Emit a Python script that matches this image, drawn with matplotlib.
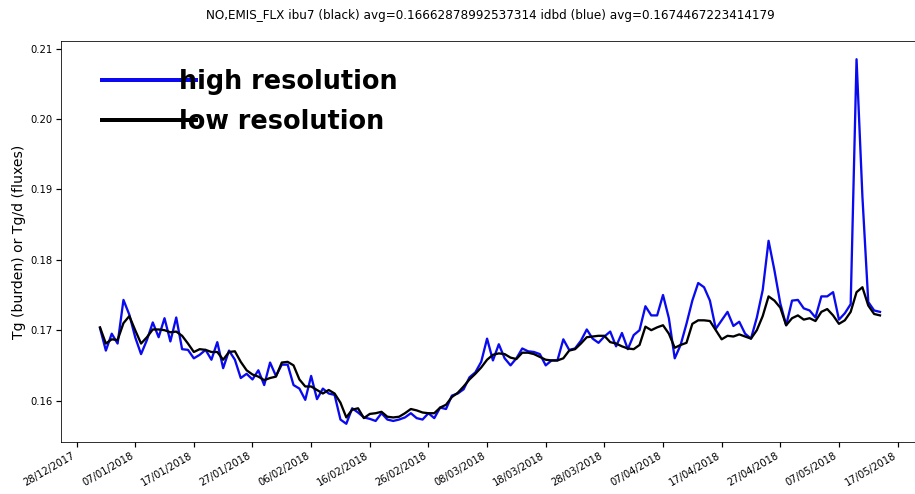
import numpy as np
import pandas as pd
import matplotlib
matplotlib.use("Agg")
import matplotlib.pyplot as plt
import matplotlib.dates as mdates

start_date = "2018-01-01"
n_days = 134

low_res = [
    0.1704, 0.1681, 0.1687, 0.1686, 0.1710, 0.1720, 0.1700, 0.1681, 0.1690, 0.1701,
    0.1701, 0.1700, 0.1697, 0.1698, 0.1692, 0.1681, 0.1669, 0.1673, 0.1672, 0.1669,
    0.1669, 0.1658, 0.1669, 0.1670, 0.1655, 0.1643, 0.1637, 0.1634, 0.1629, 0.1632,
    0.1634, 0.1654, 0.1655, 0.1650, 0.1630, 0.1620, 0.1620, 0.1615, 0.1610, 0.1615,
    0.1610, 0.1597, 0.1576, 0.1587, 0.1589, 0.1575, 0.1581, 0.1582, 0.1584, 0.1577,
    0.1576, 0.1577, 0.1582, 0.1588, 0.1586, 0.1583, 0.1582, 0.1582, 0.1590, 0.1594,
    0.1605, 0.1611, 0.1620, 0.1630, 0.1638, 0.1647, 0.1658, 0.1665, 0.1667, 0.1666,
    0.1661, 0.1659, 0.1668, 0.1668, 0.1666, 0.1662, 0.1658, 0.1657, 0.1657, 0.1660,
    0.1671, 0.1673, 0.1681, 0.1690, 0.1691, 0.1692, 0.1692, 0.1683, 0.1681, 0.1677,
    0.1674, 0.1673, 0.1679, 0.1705, 0.1700, 0.1704, 0.1707, 0.1695, 0.1675, 0.1679,
    0.1682, 0.1709, 0.1714, 0.1714, 0.1713, 0.1700, 0.1687, 0.1692, 0.1691, 0.1694,
    0.1691, 0.1688, 0.1700, 0.1720, 0.1748, 0.1742, 0.1732, 0.1707, 0.1717, 0.1721,
    0.1715, 0.1717, 0.1713, 0.1726, 0.1730, 0.1721, 0.1709, 0.1714, 0.1726, 0.1754,
    0.1761, 0.1735, 0.1723, 0.1721,
]

high_res = [
    0.1703, 0.1671, 0.1695, 0.1681, 0.1743, 0.1722, 0.1690, 0.1666, 0.1686, 0.1711,
    0.1690, 0.1717, 0.1684, 0.1718, 0.1673, 0.1672, 0.1660, 0.1665, 0.1672, 0.1658,
    0.1683, 0.1646, 0.1671, 0.1658, 0.1632, 0.1638, 0.1630, 0.1643, 0.1622, 0.1654,
    0.1635, 0.1651, 0.1651, 0.1622, 0.1617, 0.1601, 0.1635, 0.1602, 0.1617, 0.1610,
    0.1608, 0.1573, 0.1567, 0.1589, 0.1583, 0.1576, 0.1574, 0.1571, 0.1582, 0.1573,
    0.1571, 0.1573, 0.1576, 0.1582, 0.1575, 0.1573, 0.1582, 0.1575, 0.1590, 0.1588,
    0.1607, 0.1610, 0.1616, 0.1633, 0.1640, 0.1655, 0.1688, 0.1657, 0.1680, 0.1660,
    0.1650, 0.1660, 0.1674, 0.1670, 0.1669, 0.1666, 0.1650, 0.1657, 0.1657, 0.1687,
    0.1672, 0.1674, 0.1685, 0.1701, 0.1688, 0.1682, 0.1691, 0.1698, 0.1677, 0.1696,
    0.1673, 0.1693, 0.1700, 0.1734, 0.1721, 0.1721, 0.1750, 0.1717, 0.1660, 0.1679,
    0.1709, 0.1742, 0.1767, 0.1761, 0.1742, 0.1702, 0.1714, 0.1726, 0.1706, 0.1712,
    0.1695, 0.1688, 0.1718, 0.1757, 0.1827, 0.1785, 0.1738, 0.1707, 0.1742, 0.1743,
    0.1731, 0.1728, 0.1718, 0.1748, 0.1748, 0.1754, 0.1715, 0.1724, 0.1737, 0.2085,
    0.1890, 0.1740, 0.1728, 0.1726,
]

tick_dates = pd.date_range("2017-12-28", "2018-05-17", freq="10D")
title = ("NO,EMIS_FLX ibu7 (black) avg=0.16662878992537314 "
         "idbd (blue) avg=0.1674467223414179")
ylabel = "Tg (burden) or Tg/d (fluxes)"
labels = ["high resolution", "low resolution"]

dates = pd.date_range(start_date, periods=n_days, freq="D")

W, H, DPI = 915, 494, 72
fig = plt.figure(figsize=(W / DPI, H / DPI), dpi=DPI)
ax = fig.add_axes([61 / W, (H - 442) / H, (919 - 61) / W, (442 - 41) / H])

ax.plot(dates, high_res, color="#0a0af0", lw=2.3, label=labels[0])
ax.plot(dates, low_res, color="black", lw=2.3, label=labels[1])

ax.spines["right"].set_visible(False)

ax.set_xticks(tick_dates)
ax.xaxis.set_major_formatter(mdates.DateFormatter("%d/%m/%Y"))
for lab in ax.get_xticklabels():
    lab.set_rotation(30)
    lab.set_ha("right")
ax.tick_params(axis="both", labelsize=10, length=5, width=1.2)

ax.set_title(title, fontsize=12, pad=22)
ax.set_ylabel(ylabel, fontsize=14)

leg = ax.legend(loc="upper left", bbox_to_anchor=(0.021, 0.9875), frameon=False,
                prop={"size": 25.5, "weight": "bold"}, handlelength=3.7,
                handletextpad=-0.66, labelspacing=0.55)
for line in leg.get_lines():
    line.set_linewidth(4)

fig.savefig("out.png", dpi=DPI)
